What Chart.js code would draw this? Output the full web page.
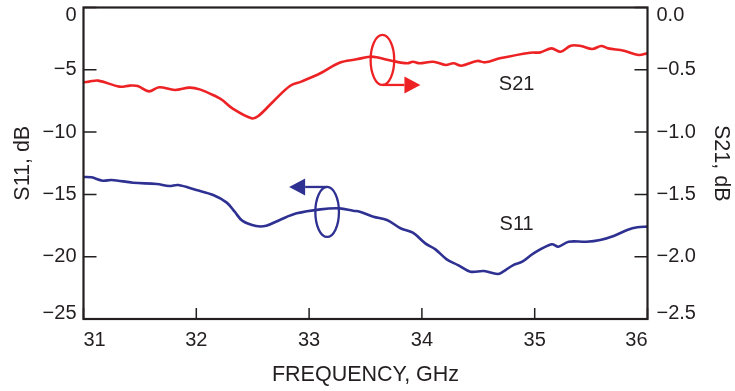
<!DOCTYPE html>
<html><head><meta charset="utf-8">
<script src="https://cdn.jsdelivr.net/npm/chart.js@4/dist/chart.umd.min.js"></script>
<style>html,body{margin:0;padding:0;background:#fff}</style>
</head><body>
<canvas id="c" width="735" height="391"></canvas>
<script>
// ---------- data ----------
const freqS11 = [31.0,31.07,31.17,31.25,31.44,31.65,31.76,31.84,32.00,32.15,32.27,32.34,32.41,32.53,32.62,32.74,32.89,33.10,33.27,33.39,33.45,33.57,33.69,33.81,33.92,34.03,34.12,34.22,34.32,34.43,34.55,34.67,34.72,34.81,34.89,34.99,35.15,35.21,35.30,35.46,35.58,35.70,35.82,35.91,36.0];
const s11 = [-13.6,-13.63,-13.9,-13.84,-14.06,-14.17,-14.33,-14.25,-14.65,-15.05,-15.66,-16.39,-17.13,-17.54,-17.51,-17.05,-16.52,-16.2,-16.12,-16.31,-16.39,-16.79,-17.05,-17.72,-18.07,-18.93,-19.41,-20.21,-20.67,-21.2,-21.15,-21.39,-21.2,-20.67,-20.4,-19.73,-19.0,-19.2,-18.8,-18.8,-18.66,-18.34,-17.86,-17.64,-17.59];
const freqS21 = [31.0,31.05,31.13,31.32,31.41,31.48,31.58,31.67,31.81,31.94,32.03,32.18,32.23,32.32,32.49,32.55,32.68,32.83,32.93,33.10,33.27,33.42,33.54,33.60,33.74,33.87,33.92,33.98,34.10,34.21,34.28,34.35,34.49,34.56,34.69,34.96,35.05,35.15,35.23,35.32,35.41,35.51,35.59,35.65,35.79,35.92,36.0];
const s21 = [-0.60,-0.595,-0.587,-0.635,-0.627,-0.63,-0.673,-0.64,-0.662,-0.643,-0.657,-0.716,-0.742,-0.809,-0.889,-0.871,-0.756,-0.63,-0.595,-0.528,-0.443,-0.416,-0.395,-0.40,-0.429,-0.448,-0.435,-0.448,-0.435,-0.461,-0.448,-0.467,-0.429,-0.44,-0.408,-0.363,-0.36,-0.328,-0.355,-0.306,-0.309,-0.333,-0.309,-0.328,-0.347,-0.381,-0.368];
const xTickValues = [31,32,33,34,35,36];
const s11TickValues = [0,-5,-10,-15,-20,-25];
const s21TickValues = [0,-0.5,-1.0,-1.5,-2.0,-2.5];

// ---------- styles ----------
const RED = '#ed2224', BLUE = '#2e3192', INK = '#231f20';
const FONT = '"Liberation Sans", Arial, Helvetica, sans-serif';
const fmt = (v, d) => (v < 0 ? '\u2212' : '') + Math.abs(v).toFixed(d);

// end labels of the vertical axes sit slightly inside the frame, as in the reference
function endLabel(text, v, top, bottom) {
  if (v === top) return ['', text];
  if (v === bottom) return [text, ''];
  return text;
}
function endFont(v, top, bottom) {
  let lh = 1.2;
  if (v === top) lh = '15px';
  else if (v === bottom) lh = '12px';
  return {family: FONT, size: 20, lineHeight: lh};
}

// annotation markers (ellipse around curve + arrow to its axis), in data units
const markers = [
  {series: 'y2', x: 33.65, y: -0.421, color: RED, dir: 1},
  {series: 'y',  x: 33.16, y: -16.41, color: BLUE, dir: -1}
];
const curveLabels = [
  {text: 'S21', x: 34.84, axis: 'y', y: -6.2},
  {text: 'S11', x: 34.84, axis: 'y', y: -17.45}
];

const framePlugin = {
  id: 'frame',
  afterDatasetsDraw(chart) {
    const {ctx, chartArea: a, scales} = chart;
    ctx.save();
    ctx.strokeStyle = INK; ctx.lineWidth = 1.5;
    ctx.beginPath();
    s11TickValues.forEach(v => {
      const py = scales.y.getPixelForValue(v);
      ctx.moveTo(a.left, py); ctx.lineTo(a.left + 13, py);
    });
    s21TickValues.forEach(v => {
      const py = scales.y2.getPixelForValue(v);
      ctx.moveTo(a.right, py); ctx.lineTo(a.right - 13, py);
    });
    xTickValues.forEach(v => {
      const px = scales.x.getPixelForValue(v);
      ctx.moveTo(px, a.bottom); ctx.lineTo(px, a.bottom - 11);
    });
    ctx.stroke();
    ctx.lineWidth = 2.2;
    ctx.strokeRect(a.left, a.top, a.right - a.left, a.bottom - a.top);
    markers.forEach(m => {
      const cx = scales.x.getPixelForValue(m.x);
      const cy = scales[m.series].getPixelForValue(m.y);
      const rx = 11.8, ry = 25;
      ctx.strokeStyle = m.color; ctx.fillStyle = m.color; ctx.lineWidth = 2.3;
      ctx.beginPath(); ctx.ellipse(cx, cy, rx, ry, 0, 0, Math.PI * 2); ctx.stroke();
      const ay = m.dir > 0 ? cy + ry : cy - ry;
      const base = cx + m.dir * 22, tip = cx + m.dir * 38;
      ctx.beginPath(); ctx.moveTo(cx, ay); ctx.lineTo(base, ay); ctx.stroke();
      ctx.beginPath(); ctx.moveTo(base, ay - 8.5); ctx.lineTo(tip, ay); ctx.lineTo(base, ay + 8.5); ctx.closePath(); ctx.fill();
    });
    ctx.fillStyle = INK; ctx.font = '20px ' + FONT; ctx.textAlign = 'center'; ctx.textBaseline = 'middle';
    curveLabels.forEach(l => {
      ctx.fillText(l.text, scales.x.getPixelForValue(l.x), scales[l.axis].getPixelForValue(l.y));
    });
    ctx.restore();
  }
};

new Chart(document.getElementById('c'), {
  type: 'line',
  data: {
    datasets: [
      {label: 'S21', data: freqS21.map((f, i) => ({x: f, y: s21[i]})), yAxisID: 'y2',
       borderColor: RED, borderWidth: 2.6, pointRadius: 0, tension: 0.35, fill: false},
      {label: 'S11', data: freqS11.map((f, i) => ({x: f, y: s11[i]})), yAxisID: 'y',
       borderColor: BLUE, borderWidth: 2.6, pointRadius: 0, tension: 0.35, fill: false}
    ]
  },
  options: {
    responsive: false, animation: false, devicePixelRatio: 1,
    layout: {padding: {top: 7.5, left: 0, right: 0, bottom: 0}},
    plugins: {legend: {display: false}, tooltip: {enabled: false}},
    scales: {
      x: {
        type: 'linear', position: 'bottom', min: 31, max: 36,
        afterBuildTicks: s => { s.ticks = xTickValues.map(v => ({value: v})); },
        afterFit: s => { s.height = 72; s.paddingLeft = 0; s.paddingRight = 0; },
        grid: {display: false, drawTicks: false}, border: {display: false},
        ticks: {color: INK, font: {family: FONT, size: 20}, padding: 9, align: 'inner', maxRotation: 0, callback: v => String(v)},
        title: {display: true, text: 'FREQUENCY, GHz', color: INK, font: {family: FONT, size: 21.5}, padding: {top: 0, bottom: 3}}
      },
      y: {
        type: 'linear', position: 'left', min: -25, max: 0,
        afterBuildTicks: s => { s.ticks = s11TickValues.map(v => ({value: v})); },
        afterFit: s => { s.width = 83.5; s.paddingTop = 0; s.paddingBottom = 0; },
        grid: {display: false, drawTicks: false}, border: {display: false},
        ticks: {color: INK, padding: 7,
                font: c => endFont(c.tick && c.tick.value, 0, -25),
                callback: v => endLabel(fmt(v, 0), v, 0, -25)},
        title: {display: true, text: 'S11, dB', color: INK, font: {family: FONT, size: 21.5}, padding: {top: 10, bottom: 0}}
      },
      y2: {
        type: 'linear', position: 'right', min: -2.5, max: 0,
        afterBuildTicks: s => { s.ticks = s21TickValues.map(v => ({value: v})); },
        afterFit: s => { s.width = 87.5; s.paddingTop = 0; s.paddingBottom = 0; },
        grid: {display: false, drawTicks: false}, border: {display: false},
        ticks: {color: INK, padding: 9,
                font: c => endFont(c.tick && c.tick.value, 0, -2.5),
                callback: v => endLabel(fmt(v, 1), v, 0, -2.5)},
        title: {display: true, text: 'S21, dB', color: INK, font: {family: FONT, size: 21.5}, padding: {top: 1.5, bottom: 0}}
      }
    }
  },
  plugins: [framePlugin]
});
</script>
</body></html>
